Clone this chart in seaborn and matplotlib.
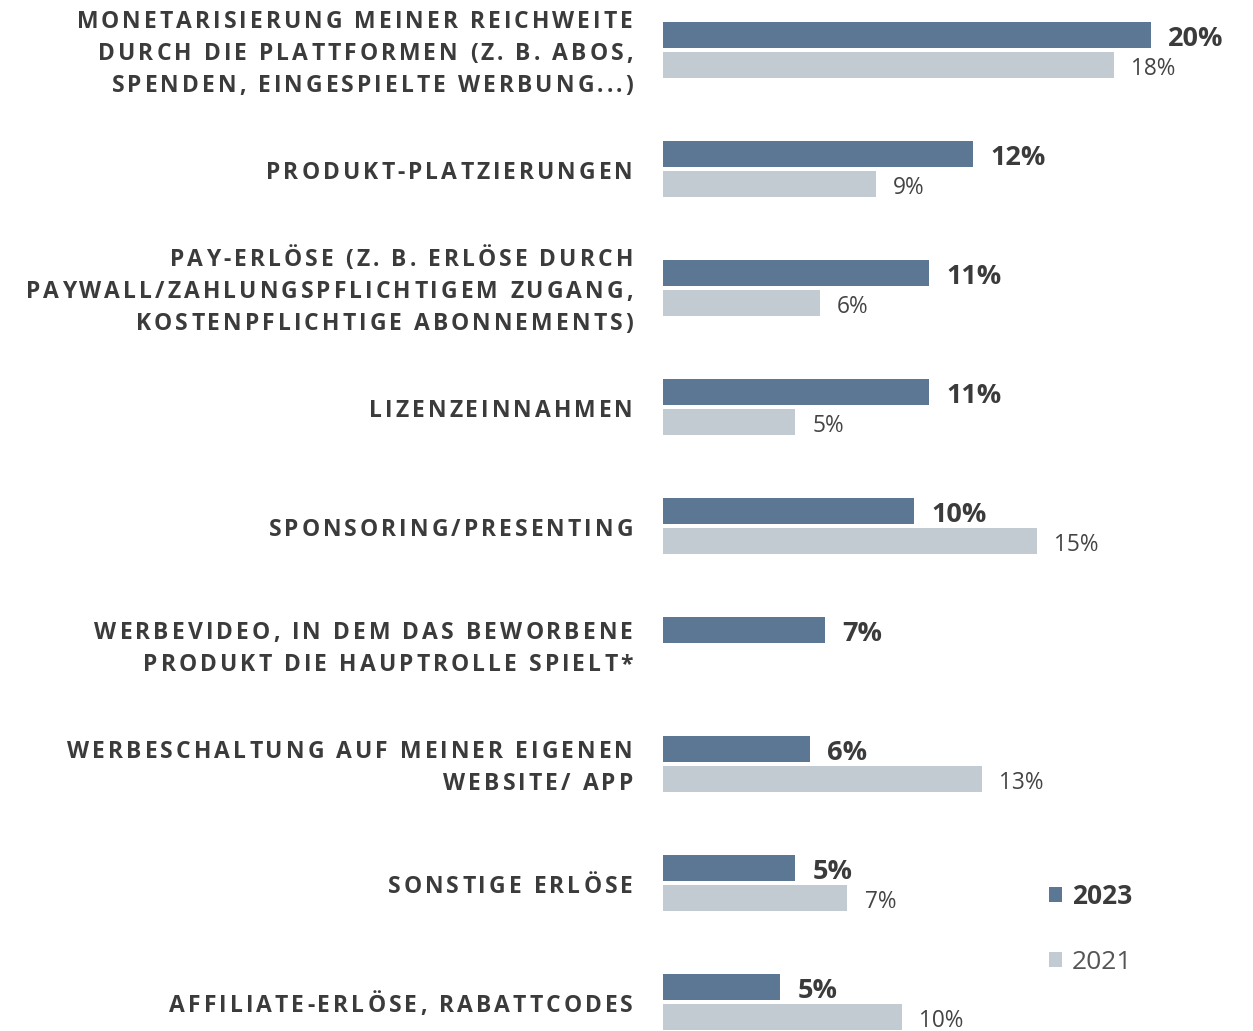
import numpy as np
import pandas as pd
import matplotlib
matplotlib.use("Agg")
import matplotlib.pyplot as plt
import seaborn as sns
from matplotlib.transforms import IdentityTransform
from matplotlib.font_manager import FontProperties

# ---------------- data ----------------
categories = [
    "MONETARISIERUNG MEINER REICHWEITE\nDURCH DIE PLATTFORMEN (Z. B. ABOS,\nSPENDEN, EINGESPIELTE WERBUNG...)",
    "PRODUKT-PLATZIERUNGEN",
    "PAY-ERLÖSE (Z. B. ERLÖSE DURCH\nPAYWALL/ZAHLUNGSPFLICHTIGEM ZUGANG,\nKOSTENPFLICHTIGE ABONNEMENTS)",
    "LIZENZEINNAHMEN",
    "SPONSORING/PRESENTING",
    "WERBEVIDEO, IN DEM DAS BEWORBENE\nPRODUKT DIE HAUPTROLLE SPIELT*",
    "WERBESCHALTUNG AUF MEINER EIGENEN\nWEBSITE/ APP",
    "SONSTIGE ERLÖSE",
    "AFFILIATE-ERLÖSE, RABATTCODES",
]
values_2023 = [19.6, 12.45, 10.7, 10.7, 10.1, 6.5, 5.9, 5.3, 4.7]
values_2021 = [18.1, 8.55, 6.3, 5.3, 15.0, np.nan, 12.8, 7.4, 9.6]
labels_2023 = ["20%", "12%", "11%", "11%", "10%", "7%", "6%", "5%", "5%"]
labels_2021 = ["18%", "9%", "6%", "5%", "15%", "", "13%", "7%", "10%"]
series = ["2023", "2021"]

df = pd.DataFrame({
    "cat": categories * 2,
    "value": values_2023 + values_2021,
    "year": [series[0]] * len(categories) + [series[1]] * len(categories),
})

DARK = "#5b7793"
LIGHT = "#c3cbd2"
TXT = "#3b3b3b"

W, H, DPI = 1253, 1031, 100
sns.set_theme(style="white")
plt.rcParams["font.family"] = ["Open Sans", "DejaVu Sans"]

fig = plt.figure(figsize=(W / DPI, H / DPI), dpi=DPI)
ax = fig.add_axes([663 / W, 0, (W - 663) / W, 1])

sns.barplot(data=df, y="cat", x="value", hue="year", hue_order=series,
            order=categories, palette=[DARK, LIGHT], orient="h",
            width=0.504, gap=0.135, errorbar=None, saturation=1,
            linewidth=0, ax=ax)

ax.set_xlim(0, (W - 663) / 24.9)
ax.set_ylim(8 + 29 / 119, -50 / 119)
ax.set_xlabel("")
ax.set_ylabel("")
ax.set_xticks([])
ax.set_yticks([])
for s in ax.spines.values():
    s.set_visible(False)

# value labels
lab_map = {0: labels_2023, 1: labels_2021}
style_map = {0: dict(fontsize=19.5, fontweight="bold", color=TXT),
             1: dict(fontsize=16.3, fontweight="normal", color="#444444")}
for ci, cont in enumerate(ax.containers[:2]):
    for p in cont.patches:
        w = p.get_width()
        if not np.isfinite(w) or w <= 0:
            continue
        yc = p.get_y() + p.get_height() / 2
        idx = int(round(yc))
        txt = lab_map[ci][idx]
        ax.annotate(txt, (w, yc), xytext=(12.5, -3), textcoords="offset points",
                    ha="left", va="center", **style_map[ci])

# legend
handles, labels = ax.get_legend_handles_labels()
if ax.get_legend() is not None:
    ax.get_legend().remove()
leg = fig.legend(handles[:2], labels[:2], loc="center left",
                 bbox_to_anchor=(1049 / W, 1 - 929 / H), frameon=False,
                 fontsize=19, handlelength=0.48, handleheight=0.48,
                 handletextpad=0.4, labelspacing=1.52, borderpad=0,
                 borderaxespad=0)
leg.get_texts()[0].set_fontweight("bold")
leg.get_texts()[0].set_color(TXT)
leg.get_texts()[1].set_color("#555555")

# category labels with letter spacing (drawn char by char, right aligned)
LBL_SIZE = 16.5
TRACK = 3.05  # px between letters
LINE_GAP = 32
RIGHT_X = 633
renderer = fig.canvas.get_renderer()
fp = FontProperties(family=["Open Sans", "DejaVu Sans"], weight="bold", size=LBL_SIZE)
_cache = {}
base_w = renderer.get_text_width_height_descent("HH", fp, ismath=False)[0]
def adv(c):
    if c not in _cache:
        _cache[c] = renderer.get_text_width_height_descent("H" + c + "H", fp, ismath=False)[0] - base_w
    return _cache[c]

cap = 0.714 * LBL_SIZE * DPI / 72
for i, cat in enumerate(categories):
    lines = cat.split("\n")
    n = len(lines)
    yc = ax.transData.transform((0, i))[1] - 1.5
    for k, line in enumerate(lines):
        ly = yc - (k - (n - 1) / 2) * LINE_GAP
        base = ly - cap / 2
        advs = [adv(c) for c in line]
        total = sum(advs) + TRACK * (len(line) - 1)
        x = RIGHT_X - total
        for c, a in zip(line, advs):
            if c != " ":
                fig.text(x, base, c, transform=IdentityTransform(), ha="left",
                         va="baseline", fontproperties=fp, color=TXT)
            x += a + TRACK

fig.savefig("out.png", dpi=DPI)
